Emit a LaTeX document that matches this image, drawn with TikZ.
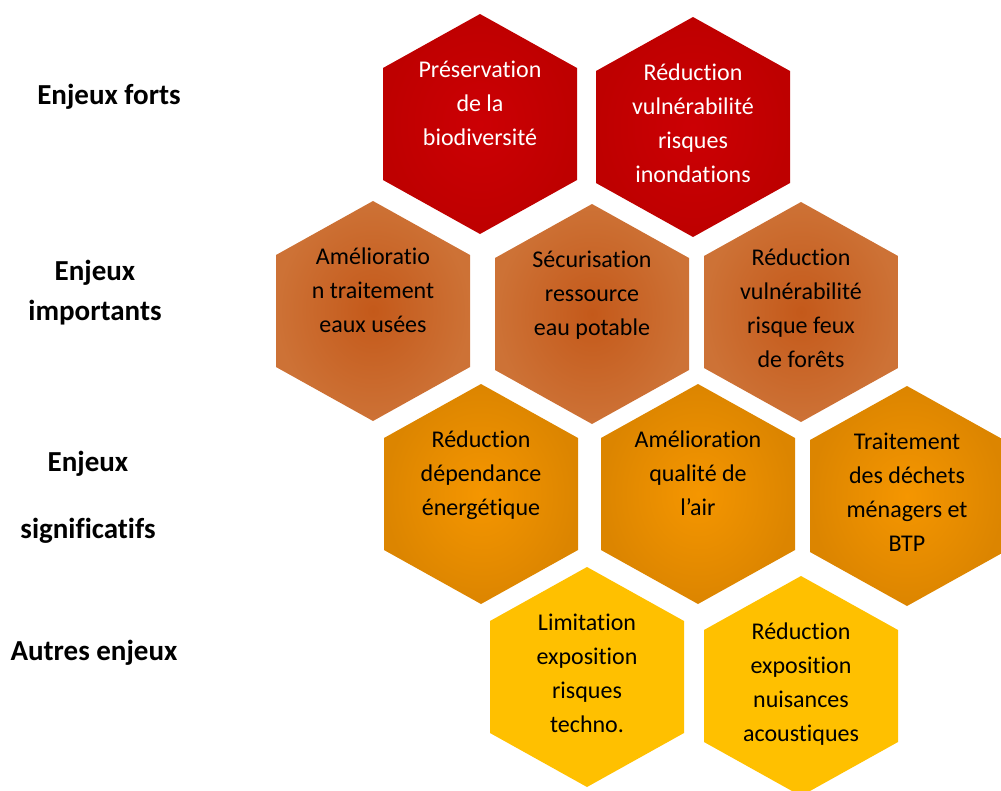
\documentclass[tikz,border=0pt]{standalone}
\usepackage{fontspec}
\setmainfont{Carlito}[Ligatures=NoCommon]
\definecolor{redout}{HTML}{BE0000}
\definecolor{redin}{HTML}{CC0004}
\definecolor{brownout}{HTML}{CD7236}
\definecolor{brownin}{HTML}{C4591A}
\definecolor{orangeout}{HTML}{DC8500}
\definecolor{orangein}{HTML}{F59600}
\definecolor{yellowfill}{HTML}{FFC000}
\newcommand\hexcell[6]{%
  \path[#4] (#2,#3) ++(-97,-56) -- ++(97,-54) -- ++(97,54) -- ++(0,112) -- ++(-97,54) -- ++(-97,-54) -- cycle;
  \node[hextext, text=#5] (#1) at (#2,#3-71) {\rule{0pt}{24pt}#6};}
\begin{document}
\begin{tikzpicture}[x=1pt,y=-1pt,
  hextext/.style={align=center, anchor=north, inner sep=0pt, font=\fontsize{24}{34}\selectfont},
  levelA/.style={shade, inner color=redin, outer color=redout},
  levelB/.style={shade, inner color=brownin, outer color=brownout},
  levelC/.style={shade, inner color=orangein, outer color=orangeout},
  levelD/.style={fill=yellowfill},
  rowlabel/.style={align=center, inner sep=0pt, font=\bfseries\fontsize{29}{40}\selectfont}]
\useasboundingbox (0,0) rectangle (1001,790);
\begin{scope}
\clip (0,0) rectangle (1001,790);
\hexcell{h1}{480}{124}{levelA}{white}{Préservation\\de la\\biodiversité}
\hexcell{h2}{693}{127}{levelA}{white}{Réduction\\vulnérabilité\\risques\\inondations}
\hexcell{h3}{373}{311}{levelB}{black}{Amélioratio\\n traitement\\eaux usées}
\hexcell{h4}{592}{314}{levelB}{black}{Sécurisation\\ressource\\eau potable}
\hexcell{h5}{801}{312}{levelB}{black}{Réduction\\vulnérabilité\\risque feux\\de forêts}
\hexcell{h6}{481}{494}{levelC}{black}{Réduction\\dépendance\\énergétique}
\hexcell{h7}{698}{494}{levelC}{black}{Amélioration\\qualité de\\l’air}
\hexcell{h8}{907}{496}{levelC}{black}{Traitement\\des déchets\\ménagers et\\BTP}
\hexcell{h9}{587}{677}{levelD}{black}{Limitation\\exposition\\risques\\techno.}
\hexcell{h10}{801}{686}{levelD}{black}{Réduction\\exposition\\nuisances\\acoustiques}
\end{scope}
\node[rowlabel] (l1) at (109,97) {Enjeux forts};
\node[rowlabel] (l2) at (95,293) {Enjeux\\importants};
\node[rowlabel] (l3) at (88,497) {Enjeux\\[27pt]significatifs};
\node[rowlabel] (l4) at (94,653) {Autres enjeux};
\end{tikzpicture}
\end{document}
